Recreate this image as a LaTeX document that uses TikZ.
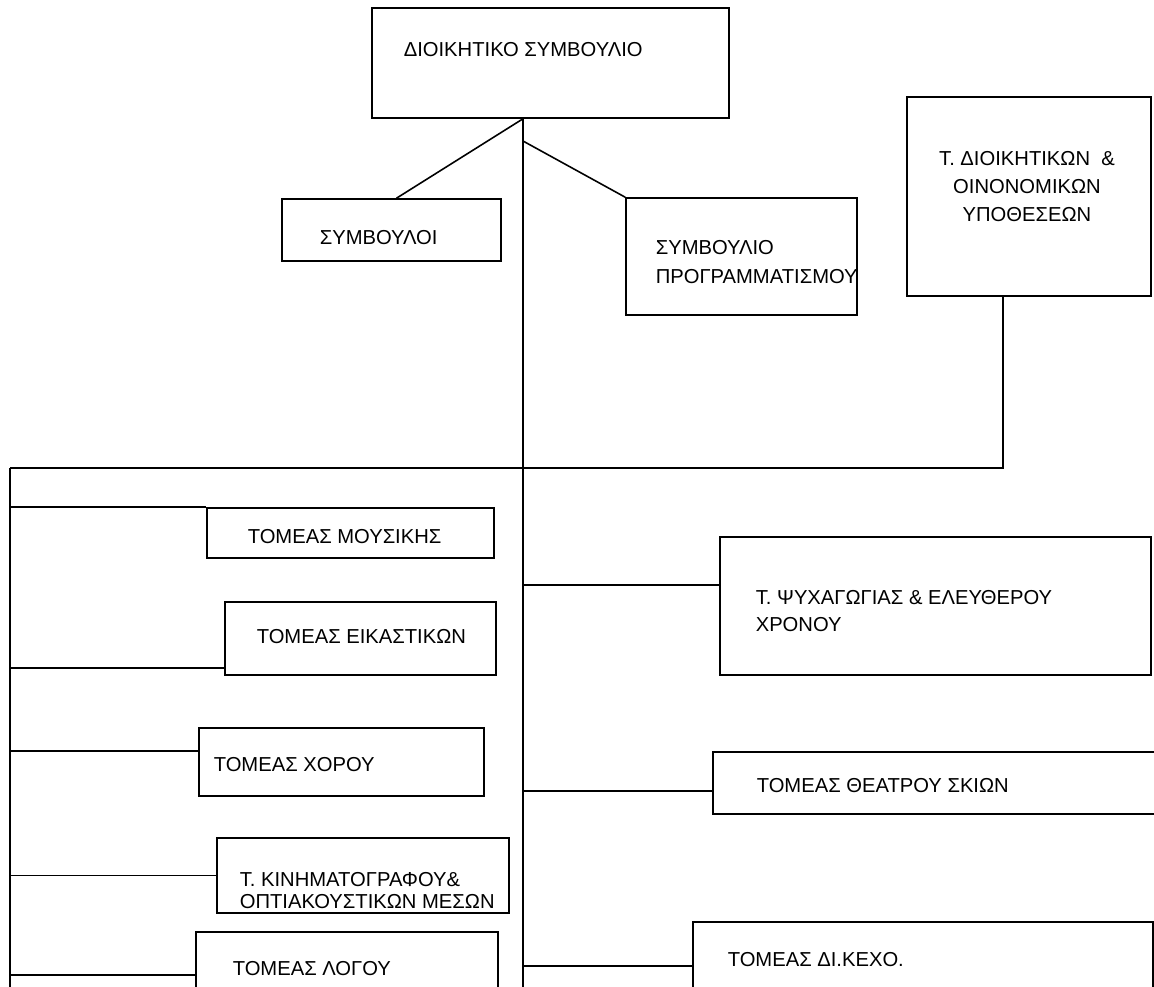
\documentclass[tikz,border=0pt]{standalone}
\usepackage{fontspec}
\setmainfont{Liberation Sans}

\begin{document}
\begin{tikzpicture}[
        x=0.02cm, y=-0.02cm,
        line width=0.9pt,
        box/.style={
            rectangle,
            draw,
            inner sep=0pt,
        },
        txt/.style={
            anchor=west,
            inner sep=0pt,
            align=left,
            font=\fontsize{11.5}{16}\selectfont,
        }
    ]

    \clip (0,0) rectangle (1154,987);

    % boxes
    \node (dioik) at (550.5,63) [box, minimum width=7.14cm, minimum height=2.2cm] {};
    \node (symb) at (391.5,230) [box, minimum width=4.38cm, minimum height=1.24cm] {};
    \node (prog) at (741.5,256.5) [box, minimum width=4.62cm, minimum height=2.34cm] {};
    \node (dioikyp) at (1029,196.5) [box, minimum width=4.88cm, minimum height=3.98cm] {};
    \node (mous) at (350.5,533) [box, minimum width=5.74cm, minimum height=1.0cm] {};
    \node (eikas) at (360.5,638.5) [box, minimum width=5.42cm, minimum height=1.46cm] {};
    \node (xor) at (341.5,762) [box, minimum width=5.70cm, minimum height=1.36cm] {};
    \node (kin) at (363,875.5) [box, minimum width=5.84cm, minimum height=1.5cm] {};
    \node (logos) at (347,971) [box, minimum width=6.04cm, minimum height=1.56cm] {};
    \node (psyx) at (935.5,606) [box, minimum width=8.62cm, minimum height=2.76cm] {};
    \node (theat) at (941.5,783) [box, minimum width=9.14cm, minimum height=1.24cm] {};
    \node (dikexo) at (923,966) [box, minimum width=9.2cm, minimum height=1.76cm] {};

    % texts
    \node (dioik-t) at (403,50) [txt] {ΔΙΟΙΚΗΤΙΚΟ ΣΥΜΒΟΥΛΙΟ};
    \node (symb-t) at (319,238) [txt] {ΣΥΜΒΟΥΛΟΙ};
    \node (prog-t) at (655,262.5) [txt] {ΣΥΜΒΟΥΛΙΟ\\[0.5pt]ΠΡΟΓΡΑΜΜΑΤΙΣΜΟΥ};
    \node (dioikyp-t) at (1027,186.5) [txt, anchor=center, align=center] {Τ. ΔΙΟΙΚΗΤΙΚΩΝ~~\&\\ΟΙΝΟΝΟΜΙΚΩΝ\\ΥΠΟΘΕΣΕΩΝ};
    \node (mous-t) at (247,537) [txt] {ΤΟΜΕΑΣ ΜΟΥΣΙΚΗΣ};
    \node (eikas-t) at (256,637) [txt] {ΤΟΜΕΑΣ ΕΙΚΑΣΤΙΚΩΝ};
    \node (xor-t) at (213,765) [txt] {ΤΟΜΕΑΣ ΧΟΡΟΥ};
    \node (kin-t) at (239,891) [txt] {Τ. ΚΙΝΗΜΑΤΟΓΡΑΦΟΥ\&\\[-3.5pt]ΟΠΤΙΑΚΟΥΣΤΙΚΩΝ ΜΕΣΩΝ};
    \node (logos-t) at (232,969) [txt] {ΤΟΜΕΑΣ ΛΟΓΟΥ};
    \node (psyx-t) at (755,611) [txt] {Τ. ΨΥΧΑΓΩΓΙΑΣ \& ΕΛΕΥΘΕΡΟΥ\\[-0.6pt]ΧΡΟΝΟΥ};
    \node (theat-t) at (756,786) [txt] {ΤΟΜΕΑΣ ΘΕΑΤΡΟΥ ΣΚΙΩΝ};
    \node (dikexo-t) at (727,960) [txt] {ΤΟΜΕΑΣ ΔΙ.ΚΕΧΟ.};

    \coordinate (trunk) at (523,987);
    \coordinate (fork) at (523,141);
    \coordinate (busL) at (10,468);
    \coordinate (busB) at (10,987);

    % top part
    \draw (dioik.south -| trunk) -- (trunk);
    \draw (dioik.south -| trunk) -- ([xshift=0.1cm]symb.north);
    \draw (fork) -- (prog.north west);
    \draw ([xshift=-0.52cm]dioikyp.south) |- (busL);
    \draw (busL) -- (busB);

    % left side
    \draw (mous.north west) -| (busL);
    \draw ([yshift=0.16cm]eikas.south west) -| (busL);
    \draw ([yshift=0.22cm]xor.west) -| (busL);
    \draw (kin.west) -| (busL);
    \draw ([yshift=-0.08cm]logos.west) -| (busL);

    % right side
    \draw ([yshift=0.42cm]psyx.west) -| (fork);
    \draw ([yshift=-0.16cm]theat.west) -| (fork);
    \draw (dikexo.west) -| (fork);

\end{tikzpicture}
\end{document}
